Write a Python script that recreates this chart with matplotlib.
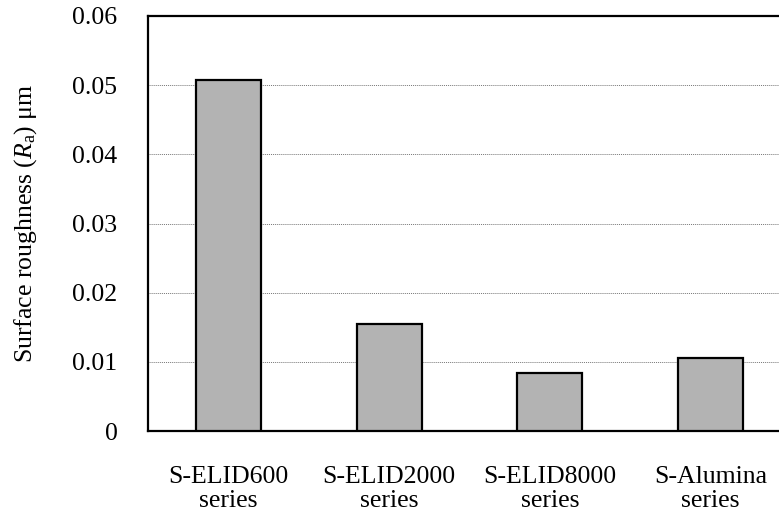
import matplotlib
matplotlib.use("Agg")
import matplotlib.pyplot as plt
import numpy as np

categorias = ["S-ELID600\nseries", "S-ELID2000\nseries", "S-ELID8000\nseries", "S-Alumina\nseries"]
rugosidad = [0.0508, 0.0155, 0.0084, 0.0105]
yticks = [0, 0.01, 0.02, 0.03, 0.04, 0.05, 0.06]
ytick_labels = ["0", "0.01", "0.02", "0.03", "0.04", "0.05", "0.06"]

plt.rcParams['font.family'] = ['Liberation Serif', 'DejaVu Serif']
plt.rcParams['mathtext.fontset'] = 'custom'
plt.rcParams['mathtext.rm'] = 'Liberation Serif'
plt.rcParams['mathtext.it'] = 'Liberation Serif:italic'

# Generar figura
fig = plt.figure(figsize=(7.79, 5.16), dpi=100)
ax = fig.add_axes([148 / 779, 85 / 516, 643 / 779, 415 / 516])

x = np.arange(len(categorias))
ax.bar(x, rugosidad, width=0.405, color='#b3b3b3', edgecolor='black',
       linewidth=1.6, zorder=3)

ax.set_xlim(-0.5, len(categorias) - 0.5)
ax.set_ylim(0, 0.06)
ax.set_yticks(yticks)
ax.set_yticklabels(ytick_labels)
ax.set_xticks(x)
ax.set_xticklabels(categorias, linespacing=1.15)

# Rejilla punteada
ax.yaxis.grid(True, linestyle=(0, (1, 1)), color='#777777', linewidth=0.7, zorder=0)
ax.set_axisbelow(True)

for s in ax.spines.values():
    s.set_linewidth(1.6)

ax.tick_params(axis='y', length=0, pad=22, labelsize=18.5)
ax.tick_params(axis='x', length=0, pad=25, labelsize=18.5)

ax.set_ylabel(r'Surface roughness ($R_{\mathrm{a}}$) μm', fontsize=18.5, labelpad=24)

fig.savefig('out.png', dpi=100)
